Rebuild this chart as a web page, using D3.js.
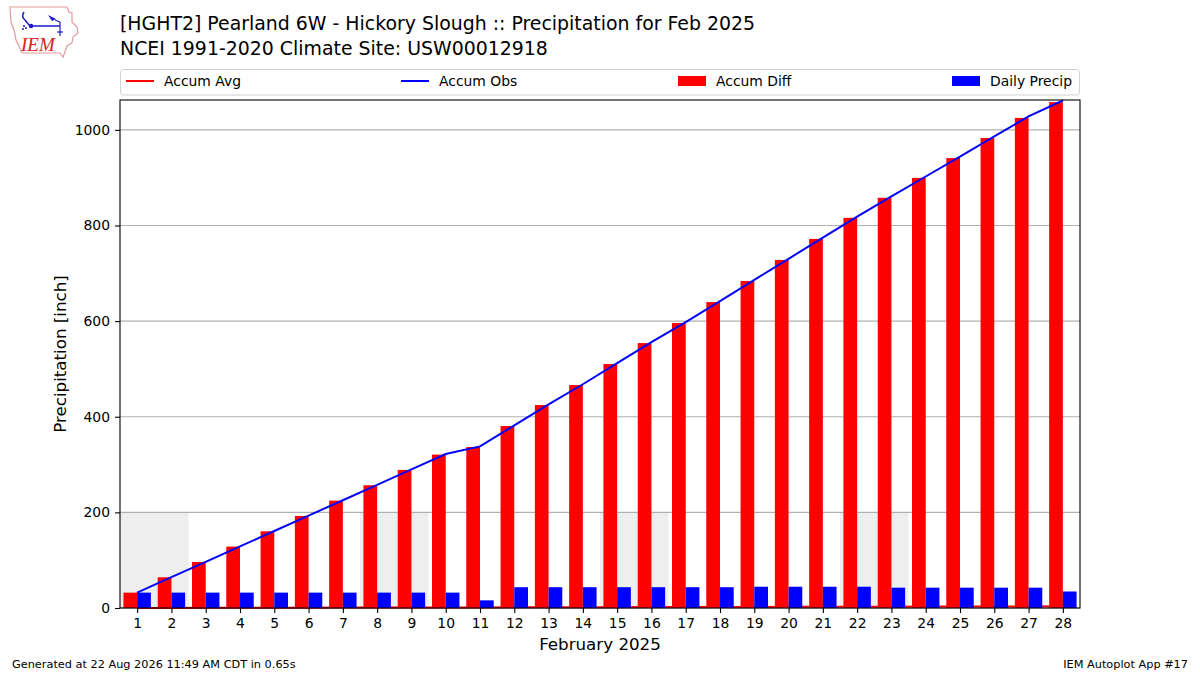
<!DOCTYPE html>
<html>
<head>
<meta charset="utf-8">
<script src="https://cdn.jsdelivr.net/npm/d3@7"></script>
<style>
  body { margin: 0; background: #fff; }
  svg { display: block; font-family: "DejaVu Sans", sans-serif; }
</style>
</head>
<body>
<div class="precip_chart"></div>
<script>
  // day of month
  const days = [1, 2, 3, 4, 5, 6, 7, 8, 9, 10, 11, 12, 13, 14, 15, 16, 17, 18, 19, 20, 21, 22, 23, 24, 25, 26, 27, 28];

  // daily precip values
  const dailyPrecip = [32.2, 32.2, 32.2, 32.2, 32.2, 32.2, 32.2, 32.2, 32.2, 32.2,
                       16.0, 43.5, 43.5, 43.5, 43.5, 43.5, 43.5, 43.5, 44.5, 44.5,
                       44.5, 44.5, 42.5, 42.5, 42.5, 42.5, 42.5, 34.5];

  const accumObs = [32.2, 64.4, 96.6, 128.8, 161.0, 193.2, 225.4, 257.6, 289.8, 322.0,
                    338.0, 382.0, 426.0, 468.0, 512.0, 556.0, 598.0, 642.0, 686.3, 730.4,
                    774.6, 818.7, 860.8, 902.5, 944.0, 986.2, 1028.2, 1061.5];

  const accumAvg = [0.11, 0.22, 0.34, 0.45, 0.57, 0.69, 0.81, 0.93, 1.05, 1.17,
                    1.29, 1.41, 1.53, 1.65, 1.78, 1.91, 2.04, 2.17, 2.30, 2.43,
                    2.56, 2.69, 2.82, 2.95, 3.08, 3.21, 3.34, 3.47];

  const accumDiff = [32.1, 64.2, 96.3, 128.4, 160.4, 192.5, 224.6, 256.7, 288.8, 320.8,
                     336.7, 380.6, 424.5, 466.3, 510.2, 554.1, 596.0, 639.8, 684.0, 728.0,
                     772.0, 816.0, 858.0, 899.6, 941.0, 983.0, 1025.0, 1058.0];

  // weekend days get a grey band
  const weekendStarts = [1, 8, 15, 22];
  const weekendTop = 200;

  const yTicks = [0, 200, 400, 600, 800, 1000];
  const legendItems = [
    {label: "Accum Avg", color: "red", type: "line"},
    {label: "Accum Obs", color: "blue", type: "line"},
    {label: "Accum Diff", color: "red", type: "bar"},
    {label: "Daily Precip", color: "blue", type: "bar"}
  ];

  const W = 1200, H = 675;
  const plot = {left: 120, right: 1080, top: 100, bottom: 608};

  const svg = d3.select(".precip_chart")
    .append("svg")
    .attr("width", W)
    .attr("height", H);

  const x = d3.scaleLinear()
    .domain([0.5, 28.5])
    .range([plot.left, plot.right]);

  const y = d3.scaleLinear()
    .domain([0, 1062.5])
    .range([plot.bottom, plot.top]);

  const barW = x(0.4) - x(0);

  // weekend shading
  svg.append("g")
    .selectAll("rect")
    .data(weekendStarts)
    .enter()
    .append("rect")
    .attr("x", d => x(d - 0.5))
    .attr("y", y(weekendTop))
    .attr("width", x(2) - x(0))
    .attr("height", y(0) - y(weekendTop))
    .attr("fill", "#eeeeee");

  // grid
  svg.append("g")
    .selectAll("line")
    .data(yTicks)
    .enter()
    .append("line")
    .attr("x1", plot.left)
    .attr("x2", plot.right)
    .attr("y1", d => y(d))
    .attr("y2", d => y(d))
    .attr("stroke", "#b0b0b0")
    .attr("stroke-width", 1.1);

  // accum avg line, under the bars
  svg.append("path")
    .datum(days)
    .attr("d", d3.line()
      .x(d => x(d))
      .y((d, i) => y(accumAvg[i])))
    .attr("fill", "none")
    .attr("stroke", "red")
    .attr("stroke-width", 2);

  // accum diff bars
  svg.append("g")
    .selectAll("rect")
    .data(days)
    .enter()
    .append("rect")
    .attr("x", d => x(d - 0.4))
    .attr("y", (d, i) => y(accumDiff[i]))
    .attr("width", barW)
    .attr("height", (d, i) => y(0) - y(accumDiff[i]))
    .attr("fill", "red");

  // daily precip bars
  svg.append("g")
    .selectAll("rect")
    .data(days)
    .enter()
    .append("rect")
    .attr("x", d => x(d))
    .attr("y", (d, i) => y(dailyPrecip[i]))
    .attr("width", barW)
    .attr("height", (d, i) => y(0) - y(dailyPrecip[i]))
    .attr("fill", "blue");

  // accum obs line
  svg.append("path")
    .datum(days)
    .attr("d", d3.line()
      .x(d => x(d))
      .y((d, i) => y(accumObs[i])))
    .attr("fill", "none")
    .attr("stroke", "blue")
    .attr("stroke-width", 2);

  // frame
  svg.append("rect")
    .attr("x", plot.left)
    .attr("y", plot.top)
    .attr("width", plot.right - plot.left)
    .attr("height", plot.bottom - plot.top)
    .attr("fill", "none")
    .attr("stroke", "#000")
    .attr("stroke-width", 1.1);

  // axes
  const xAxis = svg.append("g")
    .attr("transform", `translate(0,${plot.bottom})`)
    .call(d3.axisBottom(x).tickValues(days).tickSize(5).tickPadding(5).tickFormat(d3.format("d")));
  const yAxis = svg.append("g")
    .attr("transform", `translate(${plot.left},0)`)
    .call(d3.axisLeft(y).tickValues(yTicks).tickSize(5).tickPadding(5).tickFormat(d3.format("d")));
  [xAxis, yAxis].forEach(a => {
    a.select(".domain").remove();
    a.selectAll("line").attr("stroke", "#000").attr("stroke-width", 1.1);
    a.selectAll("text")
      .style("font-family", "DejaVu Sans")
      .style("font-size", "13.9px")
      .attr("fill", "#000");
  });

  // axis labels
  svg.append("text")
    .attr("x", (plot.left + plot.right) / 2)
    .attr("y", 650)
    .attr("text-anchor", "middle")
    .style("font-size", "16.7px")
    .text("February 2025");

  svg.append("text")
    .attr("transform", `translate(66,${(plot.top + plot.bottom) / 2}) rotate(-90)`)
    .attr("text-anchor", "middle")
    .style("font-size", "16.7px")
    .text("Precipitation [inch]");

  // title
  svg.append("text")
    .attr("x", 120).attr("y", 30)
    .style("font-size", "18.9px")
    .text("[HGHT2] Pearland 6W - Hickory Slough :: Precipitation for Feb 2025");
  svg.append("text")
    .attr("x", 120).attr("y", 54.5)
    .style("font-size", "18.9px")
    .text("NCEI 1991-2020 Climate Site: USW00012918");

  // legend
  const legend = svg.append("g");
  legend.append("rect")
    .attr("x", 120.5).attr("y", 69.5)
    .attr("width", 959).attr("height", 25.5)
    .attr("rx", 3)
    .attr("fill", "#fff")
    .attr("stroke", "#d0d0d0");
  const legendX = [126, 401, 678, 952];
  legendItems.forEach((d, i) => {
    const lx = legendX[i];
    if (d.type === "line") {
      legend.append("line")
        .attr("x1", lx).attr("x2", lx + 28)
        .attr("y1", 81).attr("y2", 81)
        .attr("stroke", d.color).attr("stroke-width", 2);
    } else {
      legend.append("rect")
        .attr("x", lx).attr("y", 76)
        .attr("width", 28).attr("height", 10)
        .attr("fill", d.color);
    }
    legend.append("text")
      .attr("x", lx + 38).attr("y", 86)
      .style("font-size", "13.9px")
      .text(d.label);
  });

  // footer
  svg.append("text")
    .attr("x", 12).attr("y", 668)
    .style("font-size", "11.3px")
    .text("Generated at 22 Aug 2026 11:49 AM CDT in 0.65s");
  svg.append("text")
    .attr("x", 1188).attr("y", 668)
    .attr("text-anchor", "end")
    .style("font-size", "11.3px")
    .text("IEM Autoplot App #17");

  // IEM logo, rough drawing
  const logo = svg.append("g");
  logo.append("path")
    .attr("d", "M10,7 L67,7 L69,12 L72,13 L72,22 L77,27 L78,33 L73,37 L72,43 L67,46 L65,52 L63,57 L60,53 L22,53 L19,46 L16,40 L14,30 L11,22 Z")
    .attr("fill", "#fff")
    .attr("stroke", "#e59a9a")
    .attr("stroke-width", 1.2);
  logo.append("path")
    .attr("d", "M24,12 Q21,17 25,20 L29,25")
    .attr("fill", "none").attr("stroke", "#1a1ac8").attr("stroke-width", 1.5);
  logo.append("circle").attr("cx", 31).attr("cy", 26).attr("r", 2.3).attr("fill", "#1a1ac8");
  logo.append("line").attr("x1", 31).attr("x2", 60).attr("y1", 26).attr("y2", 26)
    .attr("stroke", "#1a1ac8").attr("stroke-width", 1.5);
  logo.append("path").attr("d", "M48,15 L56,19 L52,21 Z").attr("fill", "#1a1ac8");
  logo.append("line").attr("x1", 55).attr("x2", 60).attr("y1", 20).attr("y2", 22)
    .attr("stroke", "#1a1ac8").attr("stroke-width", 1.2);
  logo.append("line").attr("x1", 60).attr("x2", 60).attr("y1", 22).attr("y2", 36)
    .attr("stroke", "#1a1ac8").attr("stroke-width", 1.2);
  logo.append("line").attr("x1", 57).attr("x2", 63).attr("y1", 32).attr("y2", 32)
    .attr("stroke", "#1a1ac8").attr("stroke-width", 1.2);
  logo.append("circle").attr("cx", 24).attr("cy", 26).attr("r", 1).attr("fill", "#1a1ac8");
  logo.append("circle").attr("cx", 26).attr("cy", 28).attr("r", 1).attr("fill", "#1a1ac8");
  logo.append("circle").attr("cx", 23).attr("cy", 29).attr("r", 1).attr("fill", "#1a1ac8");
  logo.append("text")
    .attr("x", 21).attr("y", 51)
    .style("font-family", "Liberation Serif")
    .style("font-style", "italic")
    .style("font-size", "19px")
    .attr("fill", "#d42020")
    .text("IEM");
</script>
</body>
</html>
